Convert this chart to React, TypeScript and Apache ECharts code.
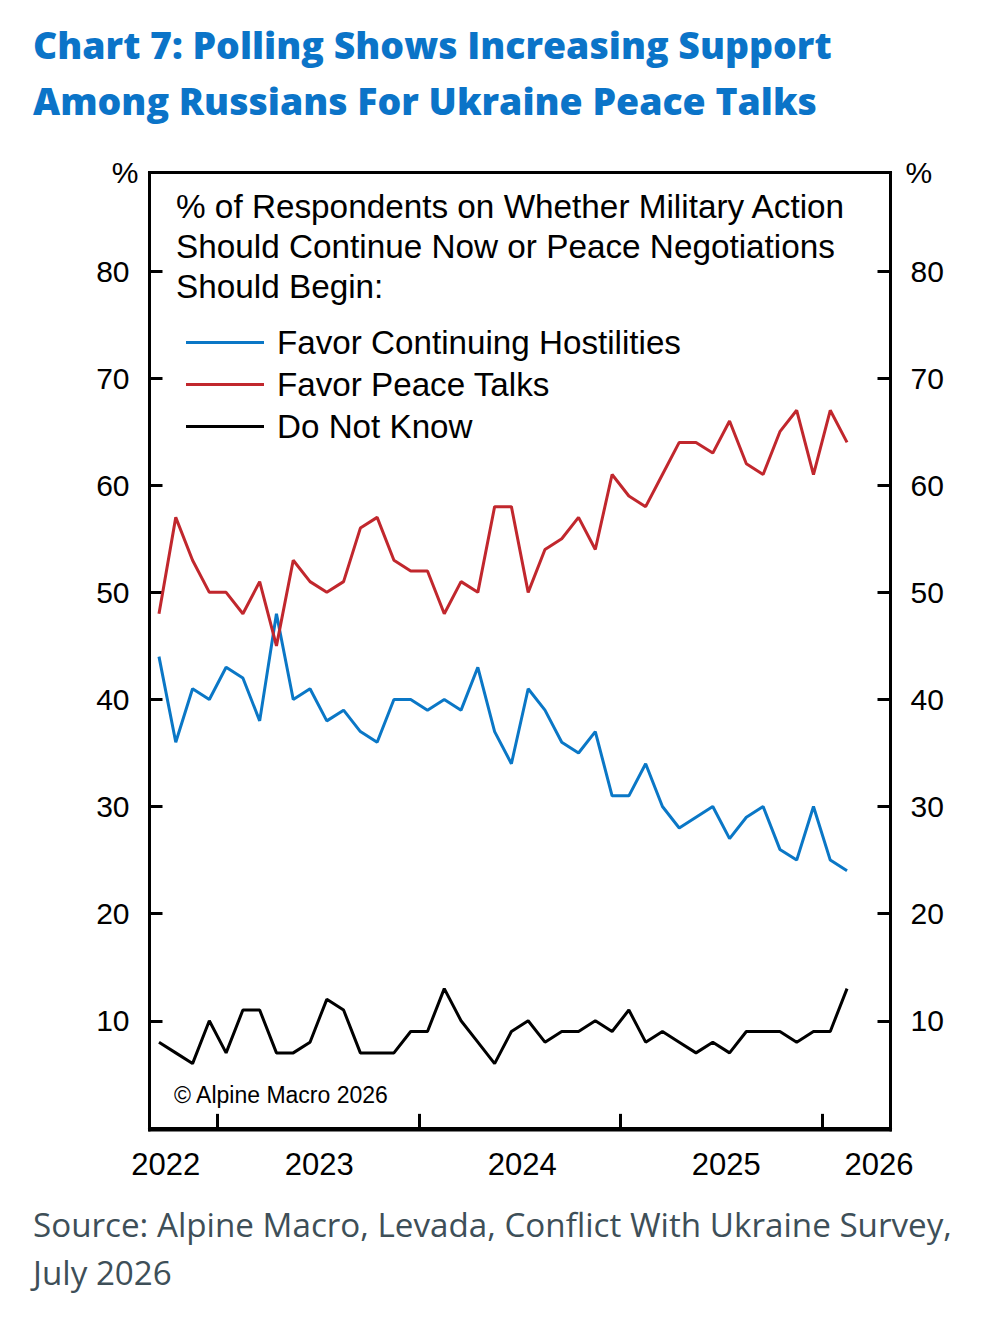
import React, { useEffect, useRef } from "react";
import * as echarts from "echarts";

// ---- data (monthly survey readings, %) ----
const months = [
  "2022-09", "2022-10", "2022-11", "2022-12",
  "2023-01", "2023-02", "2023-03", "2023-04", "2023-05", "2023-06",
  "2023-07", "2023-08", "2023-09", "2023-10", "2023-11", "2023-12",
  "2024-01", "2024-02", "2024-03", "2024-04", "2024-05", "2024-06",
  "2024-07", "2024-08", "2024-09", "2024-10", "2024-11", "2024-12",
  "2025-01", "2025-02", "2025-03", "2025-04", "2025-05", "2025-06",
  "2025-07", "2025-08", "2025-09", "2025-10", "2025-11", "2025-12",
  "2026-01", "2026-02",
];

const favorHostilities = [
  44, 36, 41, 40, 43, 42, 38, 48, 40, 41, 38, 39, 37, 36, 40, 40, 39, 40, 39, 43, 37,
  34, 41, 39, 36, 35, 37, 31, 31, 34, 30, 28, 29, 30, 27, 29, 30, 26, 25, 30, 25, 24,
];

const favorPeace = [
  48, 57, 53, 50, 50, 48, 51, 45, 53, 51, 50, 51, 56, 57, 53, 52, 52, 48, 51, 50, 58,
  58, 50, 54, 55, 57, 54, 61, 59, 58, 61, 64, 64, 63, 66, 62, 61, 65, 67, 61, 67, 64,
];

const doNotKnow = [
  8, 7, 6, 10, 7, 11, 11, 7, 7, 8, 12, 11, 7, 7, 7, 9, 9, 13, 10, 8, 6,
  9, 10, 8, 9, 9, 10, 9, 11, 8, 9, 8, 7, 8, 7, 9, 9, 9, 8, 9, 9, 13,
];

const seriesNames = ["Favor Continuing Hostilities", "Favor Peace Talks", "Do Not Know"];
const yTickValues = [10, 20, 30, 40, 50, 60, 70, 80];
const yearTickMonths = ["2023-01", "2024-01", "2025-01", "2026-01"];
const yearLabels = ["2022", "2023", "2024", "2025", "2026"];

// ---- layout / style config ----
const yearLabelPositions = [8.9, 18.05, 30.15, 42.3, 51.4]; // month-index positions of year labels
const X_MIN = 7.935;
const X_MAX = 52.09;
const Y_MIN = -0.2;
const Y_MAX = 89.2;
const FONT = "'Liberation Sans', Arial, Helvetica, sans-serif";
const TITLE_FONT = "'Open Sans', 'Noto Sans', sans-serif";
const BLUE = "#0a77c6";
const RED = "#c1272d";
const BLACK = "#000000";

const monthIndex = (s: string) => {
  const [y, m] = s.split("-").map(Number);
  return (y - 2022) * 12 + (m - 1);
};

const toPoints = (vals: number[]) => months.map((m, i) => [monthIndex(m) + 0.5, vals[i]]);

export default function App() {
  const ref = useRef<HTMLDivElement>(null);

  useEffect(() => {
    document.body.style.margin = "0";
    if (!ref.current) return;
    const chart = echarts.init(ref.current, null, { renderer: "svg" });

    const yAxisCommon = (pos: "left" | "right") => ({
      type: "value",
      position: pos,
      min: Y_MIN,
      max: Y_MAX,
      splitLine: { show: false },
      axisLine: { show: true, lineStyle: { color: BLACK, width: 3 } },
      axisTick: {
        show: true,
        inside: true,
        length: 13,
        lineStyle: { color: BLACK, width: 3 },
        customValues: yTickValues,
      },
      axisLabel: {
        customValues: yTickValues,
        fontSize: 30,
        margin: 20,
        color: BLACK,
        fontFamily: FONT,
        padding: [0, 0, 5, 0],
      },
      name: "%",
      nameLocation: "end",
      nameGap: 0,
      nameTextStyle: {
        fontSize: 30,
        color: BLACK,
        fontFamily: FONT,
        align: pos === "left" ? "right" : "left",
        verticalAlign: "middle",
        padding: pos === "left" ? [0, 11, 0, 0] : [0, 0, 0, 15],
      },
    });

    const option = {
      animation: false,
      backgroundColor: "#ffffff",
      title: [
        {
          text: "Chart 7: Polling Shows Increasing Support\nAmong Russians For Ukraine Peace Talks",
          left: 33,
          top: 16,
          padding: 0,
          textStyle: {
            fontSize: 37.4,
            fontWeight: 800,
            color: "#0b74c8",
            lineHeight: 56,
            fontFamily: TITLE_FONT,
          },
        },
        {
          text:
            "% of Respondents on Whether Military Action\nShould Continue Now or Peace Negotiations\nShould Begin:",
          left: 176,
          top: 186,
          padding: 0,
          textStyle: {
            fontSize: 33.3,
            fontWeight: "normal",
            color: BLACK,
            lineHeight: 40,
            fontFamily: FONT,
          },
        },
        {
          text: "© Alpine Macro 2026",
          left: 174,
          top: 1083,
          padding: 0,
          textStyle: {
            fontSize: 23,
            fontWeight: "normal",
            color: BLACK,
            lineHeight: 24,
            fontFamily: FONT,
          },
        },
        {
          text: "Source: Alpine Macro, Levada, Conflict With Ukraine Survey,\nJuly 2026",
          left: 33,
          top: 1200,
          padding: 0,
          textStyle: {
            fontSize: 33.2,
            fontWeight: "normal",
            color: "#3e4f58",
            lineHeight: 48,
            fontFamily: TITLE_FONT,
          },
        },
      ],
      legend: {
        data: seriesNames,
        orient: "vertical",
        left: 186,
        top: 326,
        padding: 0,
        icon: "rect",
        itemWidth: 78,
        itemHeight: 3,
        itemGap: 9,
        textStyle: {
          fontSize: 33.2,
          lineHeight: 30,
          color: BLACK,
          fontFamily: FONT,
          padding: [0, 0, 0, 8],
        },
      },
      grid: {
        left: 149.5,
        top: 172.5,
        width: 741,
        height: 957.5,
        show: true,
        borderColor: BLACK,
        borderWidth: 3,
        backgroundColor: "transparent",
        containLabel: false,
      },
      xAxis: {
        type: "value",
        min: X_MIN,
        max: X_MAX,
        splitLine: { show: false },
        axisLine: { show: true, lineStyle: { color: BLACK, width: 3 } },
        axisTick: {
          show: true,
          inside: true,
          length: 14,
          lineStyle: { color: BLACK, width: 3 },
          customValues: yearTickMonths.map(monthIndex),
        },
        axisLabel: {
          customValues: yearLabelPositions,
          formatter: (v: number) => {
            const i = yearLabelPositions.findIndex((p) => Math.abs(p - v) < 0.01);
            return i >= 0 ? yearLabels[i] : "";
          },
          fontSize: 31,
          margin: 19,
          color: BLACK,
          fontFamily: FONT,
        },
      },
      yAxis: [yAxisCommon("left"), yAxisCommon("right")],
      series: [
        {
          name: seriesNames[0],
          type: "line",
          data: toPoints(favorHostilities),
          showSymbol: false,
          symbol: "none",
          color: BLUE,
          lineStyle: { color: BLUE, width: 3 },
          yAxisIndex: 0,
        },
        {
          name: seriesNames[1],
          type: "line",
          data: toPoints(favorPeace),
          showSymbol: false,
          symbol: "none",
          color: RED,
          lineStyle: { color: RED, width: 3 },
          yAxisIndex: 0,
        },
        {
          name: seriesNames[2],
          type: "line",
          data: toPoints(doNotKnow),
          showSymbol: false,
          symbol: "none",
          color: BLACK,
          lineStyle: { color: BLACK, width: 3 },
          yAxisIndex: 0,
        },
      ],
    };

    chart.setOption(option as any);
    return () => chart.dispose();
  }, []);

  return <div ref={ref} style={{ width: 1004, height: 1330 }} />;
}
